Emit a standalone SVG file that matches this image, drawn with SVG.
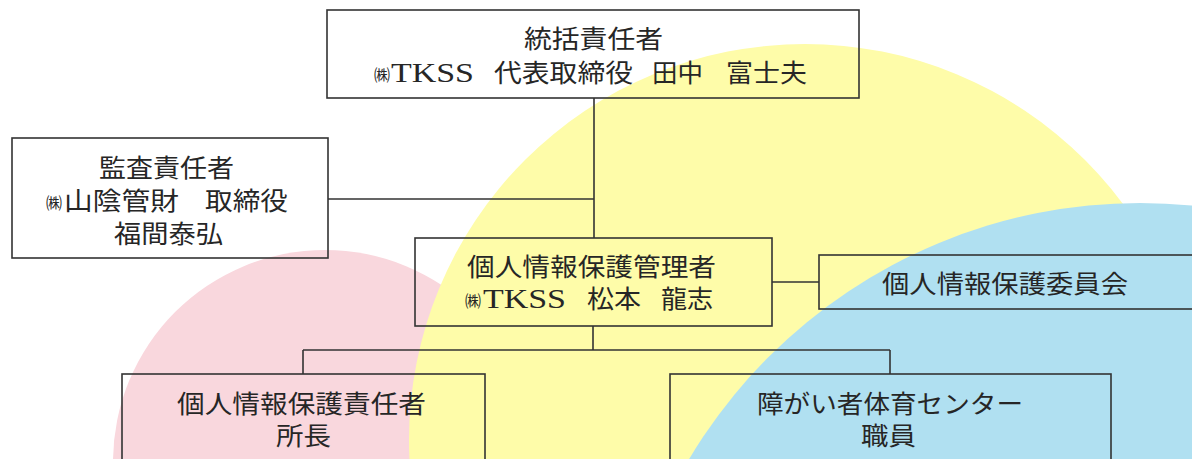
<svg xmlns="http://www.w3.org/2000/svg" width="1192" height="459" viewBox="0 0 1192 459">
<style>
.box{fill:none;stroke:#333;stroke-width:1.6}
.ln{fill:none;stroke:#333;stroke-width:1.6}
text{font-family:"Liberation Serif","Noto Sans CJK JP",serif;font-size:25px;fill:#262626}
.lat{font-size:27px}
.kb{font-size:16px}
</style>
<rect width="1192" height="459" fill="#ffffff"/>
<g id="background">
<circle cx="325" cy="462" r="212" fill="#f9d7dd"/>
<circle cx="805" cy="440" r="396" fill="#fefca9"/>
<circle cx="1140" cy="728" r="525" fill="#b0e0f1"/>
</g>
<g id="connectors">
<path class="ln" d="M594 98V238M328 199H594M772 282H819M593 326V350M303 350H890M303 350V374M890 350V374"/>
</g>
<g id="n-top">
<rect class="box" x="327" y="10" width="532" height="88"/>
<text><tspan x="524" y="48" textLength="139" lengthAdjust="spacingAndGlyphs">統括責任者</tspan></text>
<text><tspan class="kb" x="374" y="81">㈱</tspan><tspan class="lat" x="391" y="82" textLength="83" lengthAdjust="spacingAndGlyphs">TKSS</tspan><tspan x="494" textLength="139" lengthAdjust="spacingAndGlyphs">代表取締役</tspan><tspan x="652" textLength="51" lengthAdjust="spacingAndGlyphs">田中</tspan><tspan x="726" textLength="81" lengthAdjust="spacingAndGlyphs">富士夫</tspan></text>
</g>
<g id="n-audit">
<rect class="box" x="12" y="138" width="316" height="120"/>
<text><tspan x="99" y="177" textLength="135" lengthAdjust="spacingAndGlyphs">監査責任者</tspan></text>
<text><tspan class="kb" x="46" y="209">㈱</tspan><tspan x="64" y="210" textLength="115" lengthAdjust="spacingAndGlyphs">山陰管財</tspan><tspan x="205" textLength="83" lengthAdjust="spacingAndGlyphs">取締役</tspan></text>
<text><tspan x="114" y="243" textLength="109" lengthAdjust="spacingAndGlyphs">福間泰弘</tspan></text>
</g>
<g id="n-manager">
<rect class="box" x="415" y="238" width="357" height="88"/>
<text><tspan x="467" y="276" textLength="249" lengthAdjust="spacingAndGlyphs">個人情報保護管理者</tspan></text>
<text><tspan class="kb" x="465" y="307">㈱</tspan><tspan class="lat" x="483" y="308" textLength="83" lengthAdjust="spacingAndGlyphs">TKSS</tspan><tspan x="587" textLength="54" lengthAdjust="spacingAndGlyphs">松本</tspan><tspan x="661" textLength="52" lengthAdjust="spacingAndGlyphs">龍志</tspan></text>
</g>
<g id="n-committee">
<rect class="box" x="819" y="255" width="390" height="54"/>
<text><tspan x="882" y="293" textLength="246" lengthAdjust="spacingAndGlyphs">個人情報保護委員会</tspan></text>
</g>
<g id="n-responsible">
<rect class="box" x="122" y="374" width="363" height="100"/>
<text><tspan x="177" y="413" textLength="249" lengthAdjust="spacingAndGlyphs">個人情報保護責任者</tspan></text>
<text><tspan x="276" y="445" textLength="55" lengthAdjust="spacingAndGlyphs">所長</tspan></text>
</g>
<g id="n-center">
<rect class="box" x="670" y="374" width="441" height="100"/>
<text><tspan x="757" y="413" textLength="266" lengthAdjust="spacingAndGlyphs">障がい者体育センター</tspan></text>
<text><tspan x="861" y="445" textLength="55" lengthAdjust="spacingAndGlyphs">職員</tspan></text>
</g>
</svg>
